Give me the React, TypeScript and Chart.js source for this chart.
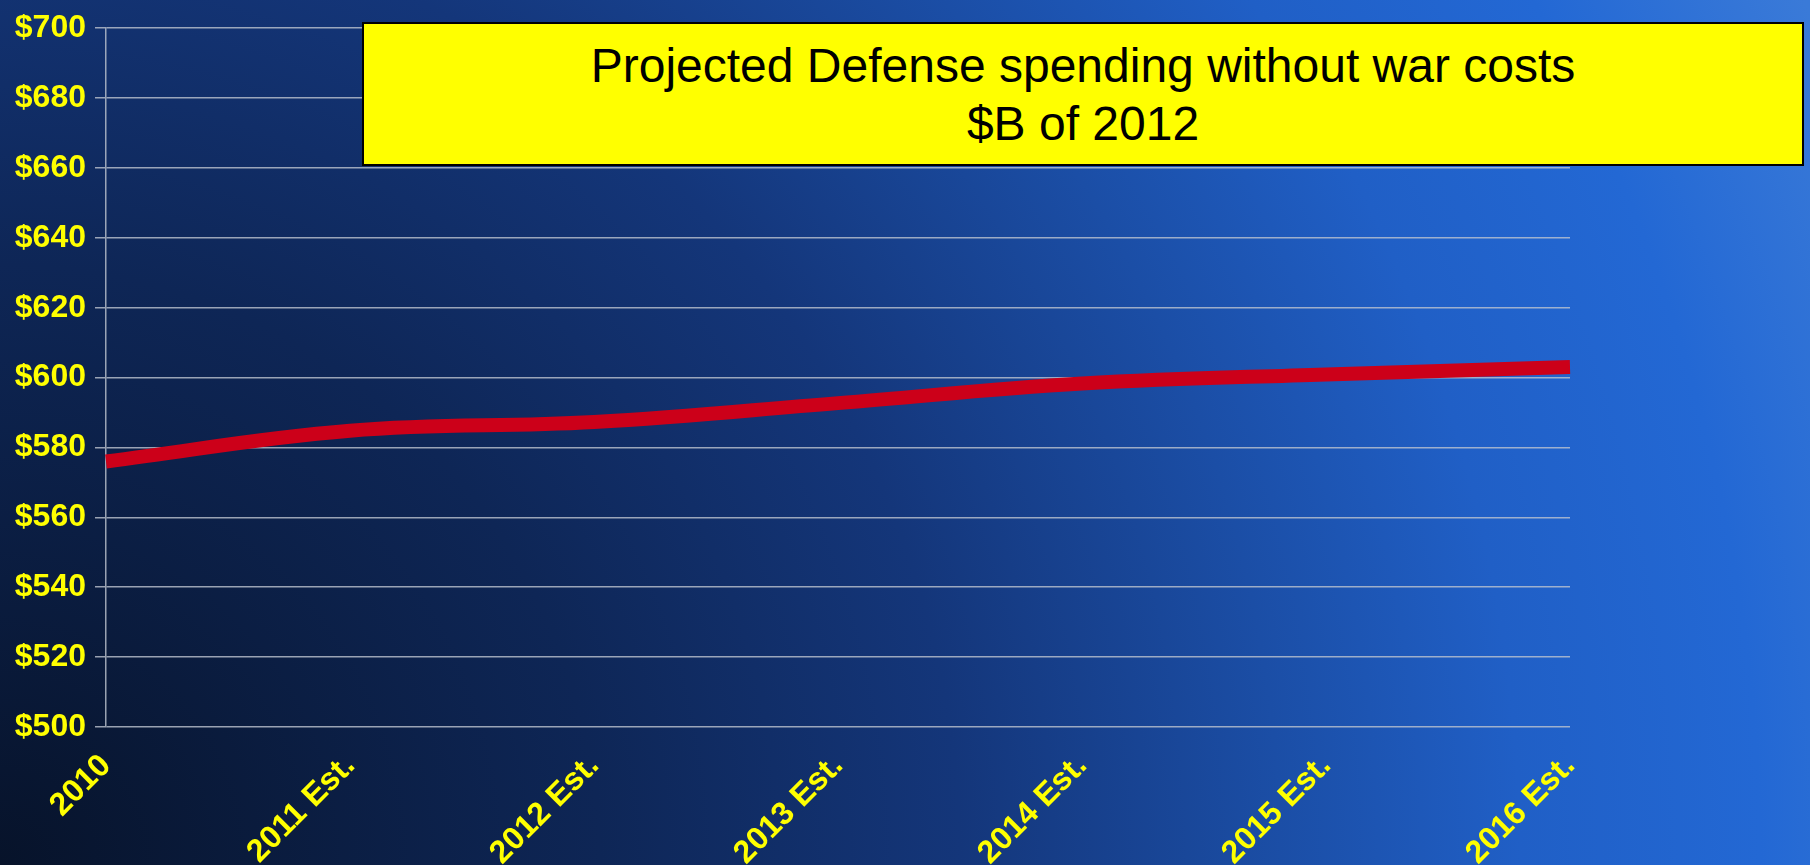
import React, { useEffect, useRef } from "react";
import { Chart, registerables } from "chart.js";

Chart.register(...registerables);

const categories = ["2010", "2011 Est.", "2012 Est.", "2013 Est.", "2014 Est.", "2015 Est.", "2016 Est."];
const spending = [576, 584.8, 587.3, 592.7, 598.3, 600.9, 603];
const yMin = 500;
const yMax = 700;
const yStep = 20;
const titleLines = ["Projected Defense spending without war costs", "$B of 2012"];

const FONT = "'Liberation Sans', Arial, sans-serif";

export default function App() {
  const canvasRef = useRef<HTMLCanvasElement | null>(null);

  useEffect(() => {
    document.body.style.margin = "0";
    const canvas = canvasRef.current;
    if (!canvas) return;
    const chart = new Chart(canvas, {
      type: "line",
      data: {
        labels: categories,
        datasets: [
          {
            label: "Defense spending",
            data: spending,
            borderColor: "#CC0019",
            borderWidth: 14,
            pointRadius: 0,
            tension: 0.4,
            fill: false,
            borderCapStyle: "butt",
          },
        ],
      },
      options: {
        animation: false,
        responsive: false,
        maintainAspectRatio: false,
        layout: { padding: { left: 0, right: 240, top: 24, bottom: 0 } },
        plugins: {
          legend: { display: false },
          title: { display: false },
          tooltip: { enabled: false },
        },
        scales: {
          x: {
            offset: false,
            grid: { display: false, drawTicks: false, tickLength: 0 },
            border: { display: false },
            ticks: {
              color: "#FFFF00",
              font: { family: FONT, size: 32, weight: "bold" },
              minRotation: 45,
              maxRotation: 45,
              padding: 20,
              autoSkip: false,
            },
            afterFit: (scale: any) => {
              scale.height = 138;
            },
          },
          y: {
            min: yMin,
            max: yMax,
            grid: {
              color: "rgba(190,196,208,0.8)",
              lineWidth: 1.5,
              tickLength: 11,
              drawTicks: true,
            },
            border: { display: true, color: "rgba(190,196,208,0.8)", width: 1.5 },
            ticks: {
              stepSize: yStep,
              color: "#FFFF00",
              padding: 9,
              font: { family: FONT, size: 32, weight: "bold" },
              callback: (v: any) => "$" + v,
            },
            afterFit: (scale: any) => {
              scale.width = 106;
            },
          },
        },
      },
    });
    return () => chart.destroy();
  }, []);

  return (
    <div
      style={{
        position: "fixed",
        left: 0,
        top: 0,
        width: 1810,
        height: 865,
        overflow: "hidden",
        background:
          "radial-gradient(circle 2000px at 0px 865px, #07132a 0%, #0e2656 30%, #14367a 48%, #1b4ea6 64%, #205fc6 76%, #2368d4 88%, #3a7ad8 100%)",
      }}
    >
      <canvas ref={canvasRef} width={1810} height={865} style={{ position: "absolute", left: 0, top: 0 }} />
      <div
        style={{
          position: "absolute",
          left: 362,
          top: 22,
          width: 1442,
          height: 144,
          boxSizing: "border-box",
          border: "2px solid #000",
          background: "#FFFF00",
          color: "#000",
          fontFamily: FONT,
          fontSize: 48,
          lineHeight: "58px",
          textAlign: "center",
          paddingTop: 13,
        }}
      >
        <div>{titleLines[0]}</div>
        <div>{titleLines[1]}</div>
      </div>
    </div>
  );
}
